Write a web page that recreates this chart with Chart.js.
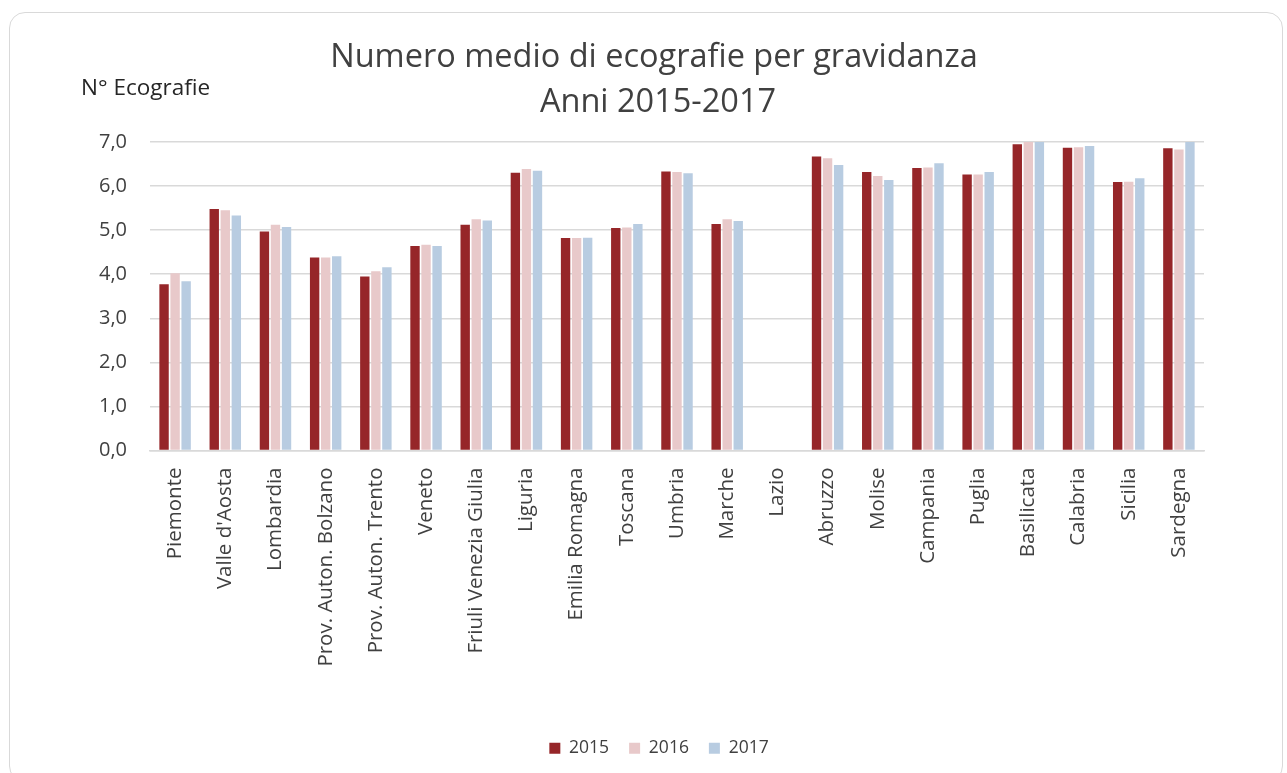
<!DOCTYPE html>
<html>
<head>
<meta charset="utf-8">
<script src="https://cdn.jsdelivr.net/npm/chart.js@4.4.1/dist/chart.umd.min.js"></script>
<style>
  html, body { margin: 0; padding: 0; background: #fff; }
  #frame {
    position: absolute; left: 9px; top: 12px; width: 1274px; height: 770px;
    border: 1px solid #d9d9d9; border-radius: 16px; box-sizing: border-box;
  }
  #wrap { position: absolute; left: 0; top: 0; width: 1287px; height: 773px; }
</style>
</head>
<body>
<div id="frame"></div>
<div id="wrap"><canvas id="myChart" width="1287" height="773"></canvas></div>
<script>
const regioni = ['Piemonte', "Valle d'Aosta", 'Lombardia', 'Prov. Auton. Bolzano', 'Prov. Auton. Trento',
  'Veneto', 'Friuli Venezia Giulia', 'Liguria', 'Emilia Romagna', 'Toscana', 'Umbria', 'Marche',
  'Lazio', 'Abruzzo', 'Molise', 'Campania', 'Puglia', 'Basilicata', 'Calabria', 'Sicilia', 'Sardegna'];

const anni = ['2015', '2016', '2017'];

// valori (Lazio non disponibile)
const v2015 = [3.77, 5.48, 4.97, 4.38, 3.95, 4.64, 5.12, 6.30, 4.82, 5.05, 6.33, 5.14, null, 6.67, 6.32, 6.41, 6.26, 6.95, 6.87, 6.09, 6.86];
const v2016 = [4.02, 5.45, 5.12, 4.38, 4.07, 4.67, 5.25, 6.39, 4.82, 5.06, 6.32, 5.25, null, 6.63, 6.23, 6.42, 6.26, 7.03, 6.88, 6.10, 6.83];
const v2017 = [3.84, 5.33, 5.07, 4.41, 4.16, 4.64, 5.22, 6.35, 4.83, 5.14, 6.29, 5.21, null, 6.48, 6.14, 6.52, 6.32, 7.06, 6.91, 6.18, 7.05];

const colori = ['#962629', '#e8c9ca', '#b8cce1'];

const FONT = '"Open Sans", sans-serif';

// titolo e titolo asse y disegnati a mano
const decorPlugin = {
  id: 'decor',
  afterDraw(chart) {
    const c = chart.ctx;
    c.save();
    c.fillStyle = '#404040';
    c.textAlign = 'center';
    c.textBaseline = 'middle';
    c.font = '32.5px ' + FONT;
    c.fillText('Numero medio di ecografie per gravidanza', 654, 58);
    c.fillText('Anni 2015-2017', 658, 103);
    c.textAlign = 'left';
    c.font = '22.5px ' + FONT;
    c.fillStyle = '#262626';
    c.fillText('N° Ecografie', 81, 89);
    c.restore();
  }
};

const ctx = document.getElementById('myChart').getContext('2d');

const data = {
  labels: regioni,
  datasets: [
    { label: anni[0], data: v2015, backgroundColor: colori[0] },
    { label: anni[1], data: v2016, backgroundColor: colori[1] },
    { label: anni[2], data: v2017, backgroundColor: colori[2] }
  ]
};

const config = {
  type: 'bar',
  data: data,
  options: {
    responsive: false,
    animation: false,
    layout: { padding: { top: 142, left: 31, right: 0, bottom: 6 } },
    datasets: {
      bar: { categoryPercentage: 0.66, barPercentage: 0.85 }
    },
    scales: {
      x: {
        grid: { display: false, drawTicks: false },
        border: { color: '#d9d9d9', width: 1.5 },
        ticks: {
          minRotation: 90, maxRotation: 90, padding: 17, autoSkip: false,
          color: '#404040', font: { family: FONT, size: 20.5 }
        },
        afterFit(scale) { scale.height = 269; }
      },
      y: {
        min: 0, max: 7,
        grid: { color: '#d9d9d9', lineWidth: 1.5, drawTicks: false },
        border: { display: false },
        ticks: {
          stepSize: 1, padding: 23, color: '#404040',
          font: { family: FONT, size: 20 },
          callback: (v) => v.toFixed(1).replace('.', ',')
        },
        afterFit(scale) { scale.width = 119; }
      },
      // asse vuoto a destra: solo per lasciare il margine
      yr: {
        position: 'right',
        grid: { display: false, drawTicks: false },
        border: { display: false },
        ticks: { display: false },
        afterFit(scale) { scale.width = 83; }
      }
    },
    plugins: {
      legend: {
        position: 'bottom',
        labels: {
          boxWidth: 11, boxHeight: 11, padding: 20, color: '#404040',
          font: { family: FONT, size: 17.5 }
        }
      },
      title: { display: false },
      tooltip: { enabled: false }
    }
  },
  plugins: [decorPlugin]
};

const myChart = new Chart(ctx, config);
</script>
</body>
</html>
